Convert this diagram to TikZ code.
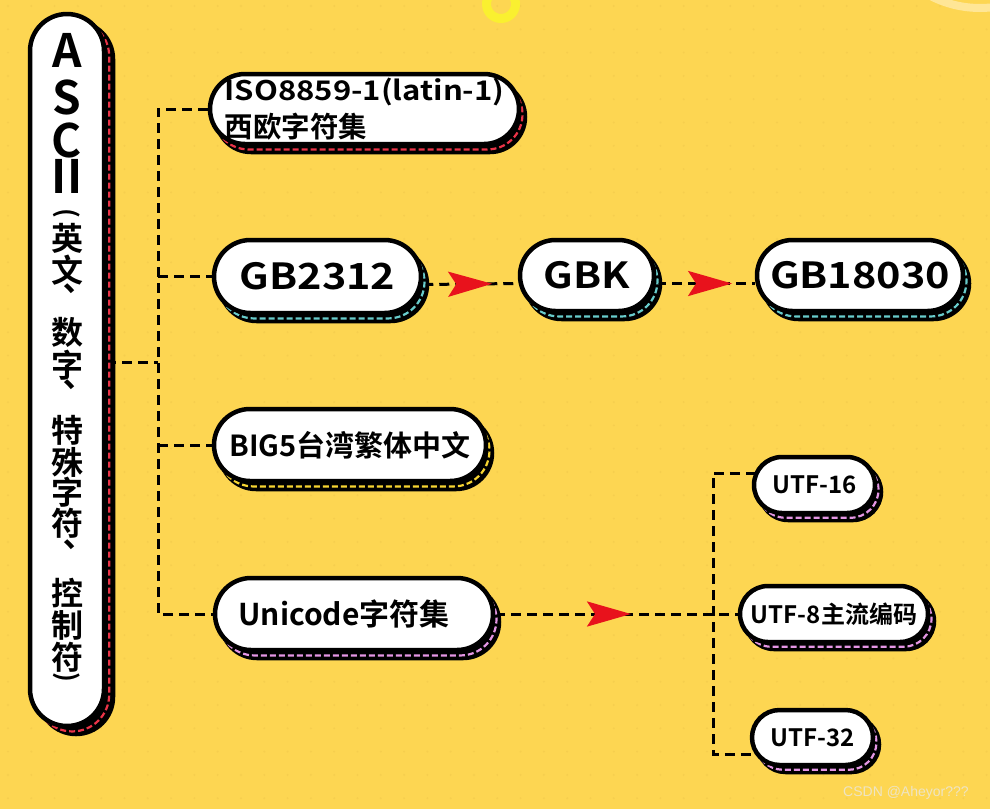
\documentclass[tikz,border=0pt]{standalone}
\usepackage{graphicx}
\usepackage{fontspec}
\newfontfamily\cjk{Noto Sans CJK SC Bold}
\newfontfamily\cjktc{Noto Sans CJK TC Bold}
\newfontfamily\lat{Noto Sans CJK SC Bold}[FakeStretch=1.15]
\setmainfont{Liberation Sans}
\usetikzlibrary{arrows.meta,decorations.markings}
\pgfdeclarelayer{background}
\pgfsetlayers{background,main}
\definecolor{bgyellow}{RGB}{253,214,82}
\definecolor{dotcol}{RGB}{246,206,78}
\definecolor{shred}{RGB}{235,52,72}
\definecolor{shcyan}{RGB}{104,204,204}
\definecolor{shyellow}{RGB}{246,212,50}
\definecolor{shpink}{RGB}{228,150,228}
\definecolor{arrowred}{RGB}{232,18,28}
\definecolor{ringyellow}{RGB}{250,240,48}
\definecolor{ringpale}{RGB}{255,230,150}
\definecolor{wmark}{RGB}{238,228,196}

\newcommand\fs[1]{\fontsize{#1}{#1}\selectfont}

\tikzset{
 conn/.style={line width=3pt, dash pattern=on 10pt off 6pt},
 pill/.style={draw=black, fill=white, line width=4.5pt, inner sep=0pt},
 asctext/.style={inner sep=0pt, font=\cjk\fs{32}},
 arrowmid/.style={postaction={decorate, decoration={markings, mark=at position #1 with {\arrow[arrowred, solid]{Stealth[length=44pt, width=25pt, inset=8pt]}}}}},
}

% cx cy w h colour dx dy
\newcommand\pillshadow[7]{%
 \pgfmathsetmacro\pxa{#1-#3/2}\pgfmathsetmacro\pxb{#1+#3/2}%
 \pgfmathsetmacro\pya{#2-#4/2}\pgfmathsetmacro\pyb{#2+#4/2}%
 \pgfmathsetmacro\prr{min(#3,#4)/2-0.01}%
 \pgfmathsetmacro\pdx{#6*0.58}\pgfmathsetmacro\pdy{#7*0.68}%
 \draw[black, fill=black, line width=4.5pt, rounded corners=\prr pt] (\pxa+#6,\pya+#7) rectangle (\pxb+#6,\pyb+#7);
 \draw[#5, line width=2.2pt, dash pattern=on 6pt off 3pt, rounded corners=\prr pt] (\pxa+\pdx,\pya+\pdy) rectangle (\pxb+\pdx,\pyb+\pdy);
}

\begin{document}
\begin{tikzpicture}[x=1pt, y=-1pt]
\useasboundingbox (0,0) rectangle (990,809);
\begin{pgfonlayer}{background}
 \fill[bgyellow] (0,0) rectangle (990,809);
 \begin{scope}
  \clip (0,0) rectangle (990,809);
  \foreach \x in {8,31.3,...,990} \foreach \y in {6,29.3,...,809} \fill[dotcol] (\x,\y) circle (1.1);
  \draw[ringyellow, line width=9pt] (501,4) circle (14.5);
  \draw[ringpale, line width=8pt] (980,-100) circle (108);
 \end{scope}
\end{pgfonlayer}

% ASCII
\pillshadow{67}{370}{74}{712}{shred}{9}{8}
\node[pill, minimum width=74pt, minimum height=712pt, rounded corners=36.99pt] (ascii) at (67,370) {};
\foreach \yy/\ch [count=\i] in {50/A, 97/S, 140/C, 176/II}
  \node[inner sep=0pt, font=\cjk\fs{46}] (ascl\i) at (67,\yy) {\ch};
\node[asctext, font=\cjk\fs{26}] (paro) at (67,213) {\rotatebox{-90}{(}};
\foreach \yy/\ch [count=\i] in {238/英, 270/文, 332/数, 365/字, 430/特, 462/殊, 492/字, 523/符, 593/控, 625/制, 657/符}
  \node[asctext] (ascc\i) at (67,\yy) {\ch};
\foreach \yy [count=\i] in {292, 388, 548}
  \node[asctext, font=\cjktc\fs{32}] (comma\i) at (69,\yy) {、};
\node[asctext, font=\cjk\fs{26}] (parc) at (67,677) {\rotatebox{-90}{)}};

% first column
\pillshadow{364.5}{109}{309}{70}{shred}{6}{8}
\node[pill, minimum width=309pt, minimum height=70pt, rounded corners=34.99pt, align=left, font=\fontsize{27}{37}\selectfont] (iso) at (364.5,109) {{\lat ISO8859-1(latin-1)}\\{\cjk\fontsize{28.5}{37}\selectfont 西欧字符集}};

\pillshadow{317.5}{276.5}{207}{73}{shcyan}{6}{8}
\node[pill, minimum width=207pt, minimum height=73pt, rounded corners=36.49pt, font=\lat\fs{36}] (gb2312) at (317.5,276.5) {GB2312};

\pillshadow{587}{275.5}{134}{71}{shcyan}{6}{8}
\node[pill, minimum width=134pt, minimum height=71pt, rounded corners=35.49pt, font=\lat\fs{36}] (gbk) at (587,275.5) {GBK};

\pillshadow{860}{275.5}{206}{71}{shcyan}{6}{8}
\node[pill, minimum width=206pt, minimum height=71pt, rounded corners=35.49pt, font=\lat\fs{36}] (gb18030) at (860,275.5) {GB18030};

\pillshadow{350}{445}{272}{72}{shyellow}{6}{8}
\node[pill, minimum width=272pt, minimum height=72pt, rounded corners=35.99pt, font=\cjk\fs{29}] (big5) at (350,445) {BIG5台湾繁体中文};

\pillshadow{354}{614}{278}{72}{shpink}{6}{8}
\node[pill, minimum width=278pt, minimum height=72pt, rounded corners=35.99pt, font=\cjk\fs{30}] (uni) at (354,614) {Unicode字符集\hspace*{20pt}};

% UTF column
\pillshadow{814.5}{485}{121}{56}{shpink}{6}{7}
\node[pill, minimum width=121pt, minimum height=56pt, rounded corners=27.99pt, font=\cjk\fs{24}] (utf16) at (814.5,485) {UTF-16};

\pillshadow{834}{614}{188}{56}{shpink}{6}{7}
\node[pill, minimum width=188pt, minimum height=56pt, rounded corners=27.99pt, font=\cjk\fs{24}] (utf8) at (834,614) {UTF-8主流编码};

\pillshadow{812.5}{737.5}{121}{55}{shpink}{6}{7}
\node[pill, minimum width=121pt, minimum height=55pt, rounded corners=27.49pt, font=\cjk\fs{24}] (utf32) at (812.5,737.5) {UTF-32};

% connectors
\begin{pgfonlayer}{background}
 \coordinate (tj) at (158,362);
 \coordinate (uj) at (713,614);
 \coordinate (u16) at ([xshift=4pt, yshift=12pt]utf16.west);
 \coordinate (u32) at ([xshift=8pt, yshift=-17pt]utf32.west);
 \draw[conn] (ascii.east |- tj) -- (tj);
 \draw[conn] (iso.west) -| (tj |- uni.west) -- (uni.west);
 \draw[conn] (tj |- gb2312.west) -- (gb2312.west);
 \draw[conn] (tj |- big5.west) -- (big5.west);
 \draw[conn, arrowmid=0.73] ([yshift=-8pt]gb2312.east) -- ([yshift=-8pt]gbk.west);
 \draw[conn, arrowmid=0.77] ([yshift=-8pt]gbk.east) -- ([yshift=-8pt]gb18030.west);
 \draw[conn, arrowmid=0.56] (uni.east) -- (utf8.west);
 \draw[conn] (u16) -| (uj |- u32) -- (u32);
\end{pgfonlayer}

\node[anchor=base west, inner sep=0pt, font=\fs{14}, text=wmark] (wm) at (843,796) {CSDN @Aheyor???};
\end{tikzpicture}
\end{document}
